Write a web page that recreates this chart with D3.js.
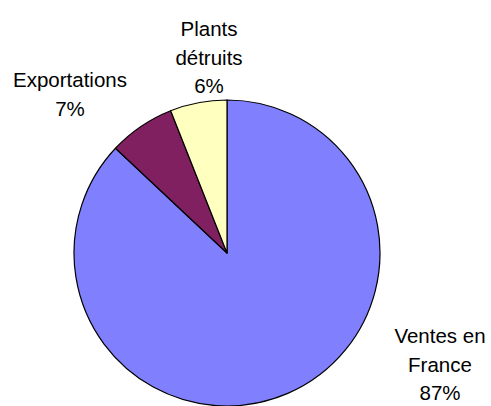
<!DOCTYPE html>
<html>
<head>
<meta charset="utf-8">
<script src="https://cdn.jsdelivr.net/npm/d3@7"></script>
<style>
html,body{margin:0;padding:0;background:#fff;}
svg{display:block;}
</style>
</head>
<body>
<svg id="chart" width="491" height="406"></svg>
<script>
const categories = ["Ventes en France", "Exportations", "Plants détruits"];
const values = [87, 7, 6];
const labelLines = [["Ventes en", "France", "87%"], ["Exportations", "7%"], ["Plants", "détruits", "6%"]];
const colors = ["#8080FF", "#802060", "#FFFFC0"];

const svg = d3.select("#chart");
const cx = 227, cy = 253, r = 153;
// label anchor (center x, first baseline y) for each slice
const labelPos = [[440, 343], [70, 87], [209, 36]];
const lineH = 28.5;

const pie = d3.pie().sort(null).value(d => d)(values);
const arc = d3.arc().innerRadius(0).outerRadius(r);

const g = svg.append("g").attr("transform", `translate(${cx},${cy})`);
g.selectAll("path").data(pie).join("path")
  .attr("d", arc)
  .attr("fill", (d, i) => colors[i])
  .attr("stroke", "#000")
  .attr("stroke-width", 1.2)
  .attr("stroke-linejoin", "round");

const lbl = svg.selectAll("text.lbl").data(categories).join("text")
  .attr("class", "lbl")
  .attr("text-anchor", "middle")
  .attr("font-family", "Liberation Sans, Arial, sans-serif")
  .attr("font-size", 20.5)
  .attr("fill", "#000")
  .attr("x", (d, i) => labelPos[i][0])
  .attr("y", (d, i) => labelPos[i][1]);
lbl.selectAll("tspan").data((d, i) => labelLines[i].map(t => ({t, i}))).join("tspan")
  .attr("x", d => labelPos[d.i][0])
  .attr("dy", (d, j) => j === 0 ? 0 : lineH)
  .text(d => d.t);
</script>
</body>
</html>
